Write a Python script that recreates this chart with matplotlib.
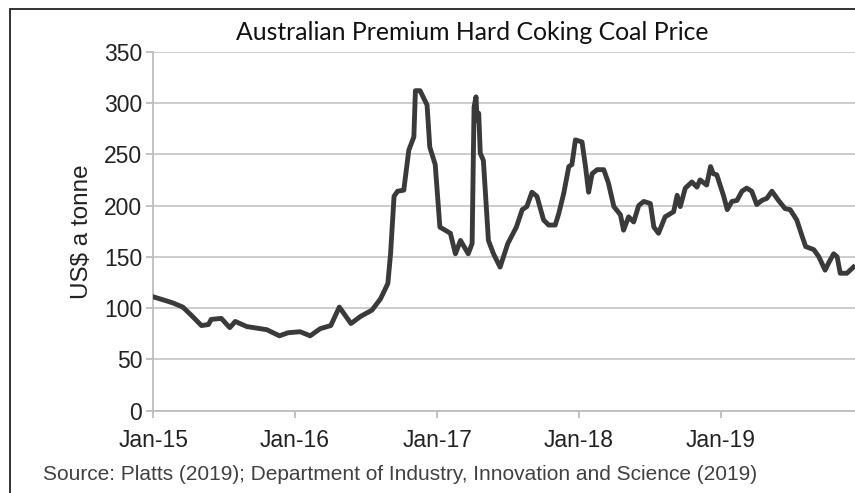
import matplotlib
matplotlib.use("Agg")
import matplotlib.pyplot as plt
import numpy as np
from matplotlib.patches import Rectangle

# price series (US$ a tonne)
dates = [
    "2015-01-01", "2015-01-27", "2015-02-21", "2015-03-18", "2015-04-09", "2015-05-05",
    "2015-05-23", "2015-05-30", "2015-06-25", "2015-07-17", "2015-07-31", "2015-08-30",
    "2015-10-20", "2015-11-22", "2015-12-14", "2016-01-14", "2016-02-09", "2016-03-06",
    "2016-04-02", "2016-04-24", "2016-05-24", "2016-06-18", "2016-07-17", "2016-08-08",
    "2016-08-27", "2016-09-03", "2016-09-12", "2016-09-21", "2016-10-07", "2016-10-20",
    "2016-11-02", "2016-11-06", "2016-11-18", "2016-12-06", "2016-12-13", "2016-12-27",
    "2017-01-08", "2017-02-04", "2017-02-17", "2017-03-02", "2017-03-22", "2017-04-01",
    "2017-04-06", "2017-04-11", "2017-04-14", "2017-04-18", "2017-04-22", "2017-04-30",
    "2017-05-13", "2017-05-26", "2017-06-12", "2017-07-02", "2017-07-24", "2017-08-08",
    "2017-08-20", "2017-09-02", "2017-09-15", "2017-10-02", "2017-10-15", "2017-11-01",
    "2017-11-10", "2017-11-23", "2017-12-06", "2017-12-14", "2017-12-23", "2018-01-09",
    "2018-01-18", "2018-01-26", "2018-02-04", "2018-02-17", "2018-03-06", "2018-03-18",
    "2018-04-01", "2018-04-18", "2018-04-26", "2018-05-09", "2018-05-22", "2018-06-04",
    "2018-06-17", "2018-07-04", "2018-07-13", "2018-07-25", "2018-08-11", "2018-09-02",
    "2018-09-11", "2018-09-19", "2018-10-02", "2018-10-19", "2018-11-01", "2018-11-09",
    "2018-11-26", "2018-12-06", "2018-12-13", "2018-12-22", "2019-01-09", "2019-01-18",
    "2019-01-30", "2019-02-12", "2019-02-25", "2019-03-09", "2019-03-22", "2019-04-04",
    "2019-04-17", "2019-04-30", "2019-05-13", "2019-05-30", "2019-06-16", "2019-06-29",
    "2019-07-16", "2019-07-29", "2019-08-08", "2019-08-29", "2019-09-11", "2019-09-27",
    "2019-10-06", "2019-10-19", "2019-10-28", "2019-11-05", "2019-11-22", "2019-12-09",
]
prices = [
    111, 108, 105, 101, 93, 83,
    84, 89, 90, 81, 87, 82,
    79, 73, 76, 77, 73, 80,
    83, 101, 85, 92, 98, 109,
    124, 153, 209, 214, 215, 254,
    267, 312, 312, 298, 257, 240,
    179, 173, 153, 166, 153, 163,
    296, 306, 283, 290, 251, 244,
    166, 153, 140, 163, 179, 196,
    199, 213, 209, 186, 181, 181,
    192, 212, 238, 240, 264, 262,
    238, 213, 231, 235, 235, 222,
    199, 191, 176, 189, 184, 200,
    204, 202, 179, 173, 189, 194,
    210, 199, 217, 223, 218, 225,
    220, 238, 231, 230, 209, 196,
    204, 205, 214, 217, 214, 201,
    205, 207, 214, 205, 197, 196,
    186, 171, 160, 157, 150, 137,
    144, 153, 150, 134, 134, 140,
]
yticks = [0, 50, 100, 150, 200, 250, 300, 350]
xtick_dates = ["2015-01-01", "2016-01-01", "2017-01-01", "2018-01-01", "2019-01-01"]
xtick_labels = ["Jan-15", "Jan-16", "Jan-17", "Jan-18", "Jan-19"]

x = np.array(dates, dtype="datetime64[D]")
xt = np.array(xtick_dates, dtype="datetime64[D]")

plt.rcParams['font.family'] = ['Liberation Sans', 'DejaVu Sans']

fig = plt.figure(figsize=(8.55, 4.93), dpi=100)
ax = fig.add_axes([153.3 / 855, 1 - 410.7 / 493, 1 - 153.3 / 855, (410.7 - 51.7) / 493])

ax.plot(x, prices, color='#3a3a3a', linewidth=3.5, solid_joinstyle='round', zorder=3)

ax.set_ylim(0, 350)
ax.set_xlim(np.datetime64("2015-01-01"), np.datetime64("2019-12-13"))
ax.set_yticks(yticks)
ax.set_xticks(xt)
ax.set_xticklabels(xtick_labels)
ax.grid(axis='y', color='#c8c8c8', linewidth=1.3)
ax.set_axisbelow(True)
for s in ['top', 'right']:
    ax.spines[s].set_visible(False)
for s in ['left', 'bottom']:
    ax.spines[s].set_color('#bdbdbd')
    ax.spines[s].set_linewidth(1.3)
ax.tick_params(axis='both', colors='#bdbdbd', labelcolor='#222222', labelsize=16.5,
               length=5, width=1.3, direction='out')
ax.tick_params(axis='y', pad=3)
ax.tick_params(axis='x', pad=8)

ax.set_ylabel("US$ a tonne", fontsize=17.5, color='#222222', labelpad=8)

fig.text(472 / 855, 1 - 32 / 493, "Australian Premium Hard Coking Coal Price",
         ha='center', va='center', fontsize=17.8, color='#111111',
         family=['Lato', 'DejaVu Sans'])
fig.text(43 / 855, 1 - 474 / 493,
         "Source: Platts (2019); Department of Industry, Innovation and Science (2019)",
         ha='left', va='center', fontsize=15, color='#404040')

# outer frame of the original graphic
fig.patches.append(Rectangle((9.5 / 855, -0.1), 1.2, 1 - 9.5 / 493 + 0.1,
                             transform=fig.transFigure, fill=False,
                             edgecolor='#222222', linewidth=1.3))

fig.savefig("out.png", dpi=100)
